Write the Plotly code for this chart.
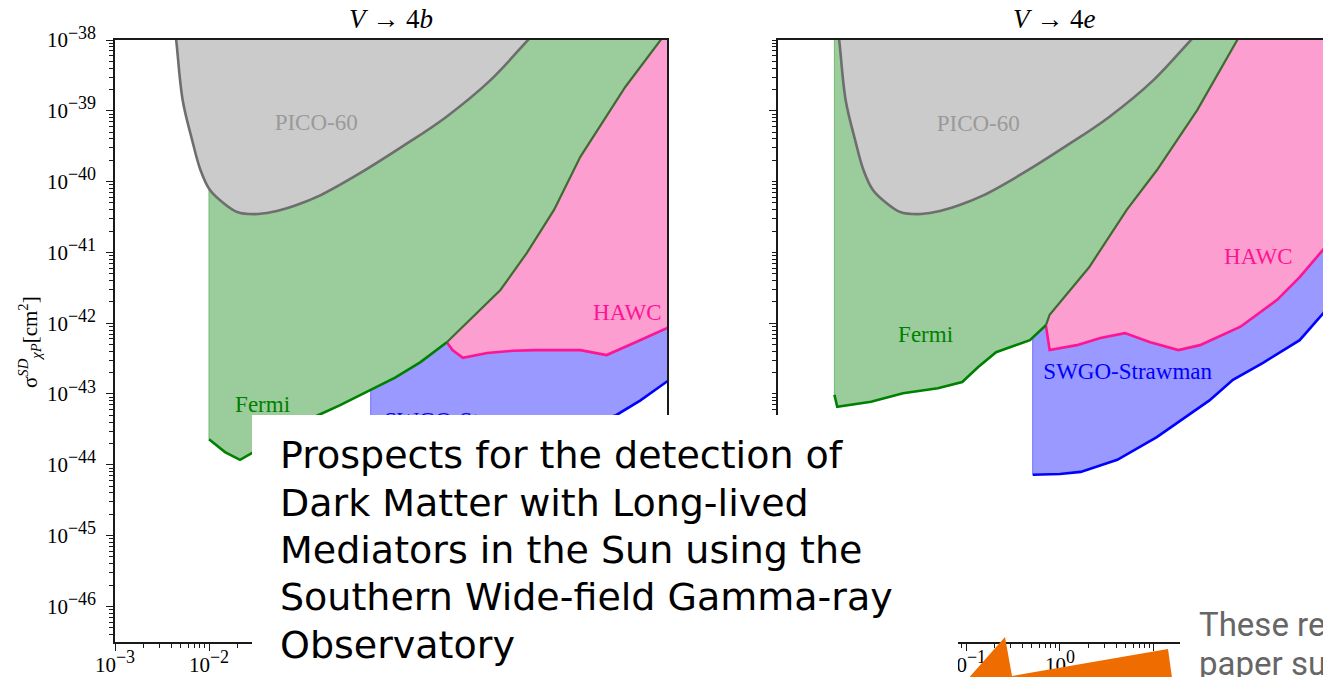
import plotly.graph_objects as go

W, H = 1323, 677

# ---------------- data: log10(mass) and log10(sigma_SD / cm^2) ----------------
pico_logm = [-2.38, -2.35, -2.28, -2.18, -2.09, -1.99, -1.85, -1.70, -1.52, -1.33, -1.09, -0.81, -0.43, 0.05, 0.52, 1.00, 1.40, 1.61]
pico_logs = [-37.70, -37.99, -38.85, -39.41, -39.84, -40.12, -40.30, -40.43, -40.46, -40.43, -40.34, -40.19, -39.91, -39.51, -39.09, -38.56, -37.99, -37.70]

# V -> 4b panel
fermi4b_logm = [-2.00, -1.83, -1.67, -1.54, -1.19, -0.84, -0.61, -0.28, -0.02, 0.25, 0.53, 0.81, 1.10, 1.38, 1.67, 1.95, 2.43, 2.81, 2.97]
fermi4b_logs = [-43.64, -43.82, -43.93, -43.83, -43.57, -43.30, -43.16, -42.94, -42.77, -42.55, -42.27, -41.91, -41.53, -41.01, -40.40, -39.65, -38.66, -37.99, -37.70]
fermi4b_join = 10
hawc4b_logm = [0.53, 0.59, 0.70, 0.96, 1.23, 1.48, 1.95, 2.23, 2.52, 2.87, 3.12]
hawc4b_logs = [-42.27, -42.38, -42.49, -42.42, -42.39, -42.38, -42.38, -42.45, -42.28, -42.07, -41.88]
swgo4b_logm = [-0.28, 0.25, 0.78, 1.31, 1.84, 2.33, 2.59, 2.87, 3.12]
swgo4b_logs = [-44.07, -44.05, -43.90, -43.72, -43.51, -43.30, -43.09, -42.83, -42.59]

# V -> 4e panel
fermi4e_logm = [-2.40, -2.37, -2.01, -1.67, -1.30, -1.04, -0.87, -0.68, -0.32, -0.15, -0.11, 0.31, 0.71, 1.03, 1.46, 1.89, 2.05]
fermi4e_logs = [-43.01, -43.18, -43.11, -42.99, -42.92, -42.83, -42.62, -42.41, -42.24, -42.03, -41.88, -41.21, -40.40, -39.84, -38.99, -37.99, -37.69]
fermi4e_join = 9
hawc4e_logm = [-0.15, -0.11, 0.18, 0.43, 0.69, 0.96, 1.26, 1.49, 1.92, 2.31, 2.55, 2.80, 2.98]
hawc4e_logs = [-42.03, -42.38, -42.31, -42.21, -42.14, -42.27, -42.38, -42.31, -42.05, -41.67, -41.35, -40.97, -40.68]
swgo4e_logm = [-0.29, 0.00, 0.22, 0.61, 1.03, 1.29, 1.59, 1.84, 2.16, 2.55, 2.80, 2.98]
swgo4e_logs = [-44.14, -44.13, -44.10, -43.93, -43.61, -43.37, -43.09, -42.80, -42.56, -42.24, -41.86, -41.53]

panel_titles = ["<i>V</i> → 4<i>b</i>", "<i>V</i> → 4<i>e</i>"]
region_labels = ["PICO-60", "Fermi", "HAWC", "SWGO-Strawman"]

x_exps = [-3, -2, -1, 0, 1, 2]
y_exps = [-38, -39, -40, -41, -42, -43, -44, -45, -46]
# only the x tick labels that are not hidden behind the slide overlays are written out
x_labels_shown_4b = [-3, -2]
x_labels_shown_4e = [-1, 0]

title_lines = [
    "Prospects for the detection of",
    "Dark Matter with Long-lived",
    "Mediators in the Sun using the",
    "Southern Wide-field Gamma-ray",
    "Observatory",
]
side_lines = ["These re", "paper su"]

# ---------------- styling ----------------
C_GRAY_FILL, C_GRAY_LINE, C_GRAY_TXT = "#cbcbcb", "#6e6e6e", "#9a9a9a"
C_GREEN_FILL, C_GREEN_LINE, C_GREEN_DARK, C_GREEN_EDGE = "#9bcc9b", "#008000", "#3d6b30", "#74b874"
C_PINK_FILL, C_PINK_LINE = "#fd9ed0", "#ff1493"
C_BLUE_FILL, C_BLUE_LINE, C_BLUE_EDGE = "#9999ff", "#0000ff", "#7070ff"
SERIF = "Liberation Serif"
TOP = -37.4


def pow_label(e):
    return "10<sup><span style='font-size:18px'>%s</span></sup>" % str(e).replace("-", "−")


xtick_text_4b = [pow_label(e) if e in x_labels_shown_4b else "" for e in x_exps]
xtick_text_4e = [pow_label(e) if e in x_labels_shown_4e else "" for e in x_exps]
ytick_text = [pow_label(e) for e in y_exps]


def P(v):
    return [10 ** a for a in v]


def px(x):
    return x / W


def py(y):
    return 1 - y / H


fig = go.Figure()


def add_fill(ax, logm, logs, color, shape="linear"):
    xs = list(logm) + [logm[-1], logm[0]]
    ys = list(logs) + [TOP, TOP]
    fig.add_trace(go.Scatter(x=P(xs), y=P(ys), mode="lines", fill="toself", fillcolor=color,
                             line=dict(width=0, shape=shape), xaxis=ax[0], yaxis=ax[1],
                             hoverinfo="skip", showlegend=False))


def add_line(ax, logm, logs, color, width, shape="linear"):
    fig.add_trace(go.Scatter(x=P(logm), y=P(logs), mode="lines",
                             line=dict(color=color, width=width, shape=shape),
                             xaxis=ax[0], yaxis=ax[1], hoverinfo="skip", showlegend=False))


def add_label(ax, txt, lm, ls, color):
    fig.add_trace(go.Scatter(x=[10 ** lm], y=[10 ** ls], mode="text", text=[txt],
                             textfont=dict(family=SERIF, size=23, color=color),
                             textposition="middle center", xaxis=ax[0], yaxis=ax[1],
                             hoverinfo="skip", showlegend=False, cliponaxis=False))


panels = [
    (("x", "y"), fermi4b_logm, fermi4b_logs, fermi4b_join, hawc4b_logm, hawc4b_logs, swgo4b_logm, swgo4b_logs,
     {"PICO-60": (-0.86, -39.19), "Fermi": (-1.43, -43.18), "HAWC": (2.45, -41.87), "SWGO-Strawman": (0.76, -43.40)}),
    (("x2", "y2"), fermi4e_logm, fermi4e_logs, fermi4e_join, hawc4e_logm, hawc4e_logs, swgo4e_logm, swgo4e_logs,
     {"PICO-60": (-0.87, -39.20), "Fermi": (-1.43, -42.18), "HAWC": (2.11, -41.08), "SWGO-Strawman": (0.72, -42.70)}),
]

for ax, fm, fs, fj, hm, hs, sm, ss, lab in panels:
    # SWGO
    add_fill(ax, sm, ss, C_BLUE_FILL)
    add_line(ax, [sm[0], sm[0]], [TOP, ss[0]], C_BLUE_EDGE, 1)
    add_line(ax, sm, ss, C_BLUE_LINE, 2.6)
    # HAWC
    add_fill(ax, hm, hs, C_PINK_FILL)
    add_line(ax, hm, hs, C_PINK_LINE, 2.6)
    # Fermi
    add_fill(ax, fm, fs, C_GREEN_FILL)
    add_line(ax, [fm[0], fm[0]], [TOP, fs[0]], C_GREEN_EDGE, 1)
    add_line(ax, fm[:fj + 1], fs[:fj + 1], C_GREEN_LINE, 2.6)
    add_line(ax, fm[fj:], fs[fj:], C_GREEN_DARK, 2.2)
    # PICO-60
    add_fill(ax, pico_logm, pico_logs, C_GRAY_FILL, shape="spline")
    add_line(ax, pico_logm, pico_logs, C_GRAY_LINE, 2.6, shape="spline")
    # labels
    add_label(ax, region_labels[0], *lab["PICO-60"], C_GRAY_TXT)
    add_label(ax, region_labels[1], *lab["Fermi"], C_GREEN_LINE)
    add_label(ax, region_labels[2], *lab["HAWC"], C_PINK_LINE)
    add_label(ax, region_labels[3], *lab["SWGO-Strawman"], C_BLUE_LINE)

axis_common = dict(
    type="log", showline=True, linecolor="#1a1a1a", linewidth=1.5,
    ticks="outside", ticklen=7, tickwidth=1.2, tickcolor="#1a1a1a",
    showgrid=False, zeroline=False, automargin=False,
    tickfont=dict(family=SERIF, size=21, color="black"),
    minor=dict(ticks="outside", ticklen=4, tickwidth=1, tickcolor="#1a1a1a", dtick="D1", showgrid=False),
)
x_vals = [10.0 ** e for e in x_exps]
y_vals = [10.0 ** e for e in y_exps]
y_dom = [py(642), py(40)]
y_rng = [-46.503, -38.0]

fig.update_layout(
    width=W, height=H, margin=dict(l=0, r=0, t=0, b=0, autoexpand=False),
    paper_bgcolor="white", plot_bgcolor="white", showlegend=False,
    xaxis=dict(axis_common, domain=[px(115), px(667)], range=[-3, 2.872], anchor="y",
               tickmode="array", tickvals=x_vals, ticktext=xtick_text_4b, mirror=True, ticklabelstandoff=-4),
    yaxis=dict(axis_common, domain=y_dom, range=y_rng, anchor="x",
               tickmode="array", tickvals=y_vals, ticktext=ytick_text, mirror=True, ticklabelstandoff=6),
    xaxis2=dict(axis_common, domain=[px(778), 1.0], range=[-3, 2.798], anchor="y2",
                tickmode="array", tickvals=x_vals, ticktext=xtick_text_4e, mirror=True, ticklabelstandoff=-4),
    yaxis2=dict(axis_common, domain=y_dom, range=y_rng, anchor="x2",
                tickmode="array", tickvals=y_vals, ticktext=[""] * len(y_vals), showticklabels=False, mirror=False),
)

annotations = [
    dict(x=px(391), y=py(19), text=panel_titles[0], font=dict(family=SERIF, size=27, color="black")),
    dict(x=px(1054), y=py(19), text=panel_titles[1], font=dict(family=SERIF, size=27, color="black")),
    dict(x=px(29), y=py(342), text="σ<sup><i>SD</i></sup><sub><i>χP</i></sub>[cm<sup>2</sup>]", textangle=-90,
         font=dict(family=SERIF, size=21, color="black")),
]
for t, yc in zip(title_lines, [455, 503, 550, 597, 645]):
    annotations.append(dict(x=px(279), y=py(yc), text=t, xanchor="left",
                            font=dict(family="DejaVu Sans", size=38, color="black")))
for t, yc in zip(side_lines, [624, 663]):
    annotations.append(dict(x=px(1198), y=py(yc), text=t, xanchor="left",
                            font=dict(family="Roboto", size=33, color="#666666")))
for a in annotations:
    a.update(xref="paper", yref="paper", showarrow=False, yanchor="middle", borderpad=0)
    a.setdefault("xanchor", "center")
fig.update_layout(annotations=annotations)


def path(points):
    return "M " + " L ".join("%.5f,%.5f" % (px(x), py(y)) for x, y in points) + " Z"


fig.update_layout(shapes=[
    dict(type="rect", xref="paper", yref="paper", x0=px(252), x1=px(958), y0=py(682), y1=py(415),
         fillcolor="white", line=dict(width=0), layer="above"),
    dict(type="rect", xref="paper", yref="paper", x0=px(1180), x1=px(1330), y0=py(682), y1=py(600),
         fillcolor="white", line=dict(width=0), layer="above"),
    dict(type="path", xref="paper", yref="paper",
         path=path([(966, 681), (1005, 637), (1012, 676), (1168, 649), (1172.5, 681)]),
         fillcolor="#ef6c00", line=dict(width=0), layer="above"),
])

fig.write_html("out.html")
